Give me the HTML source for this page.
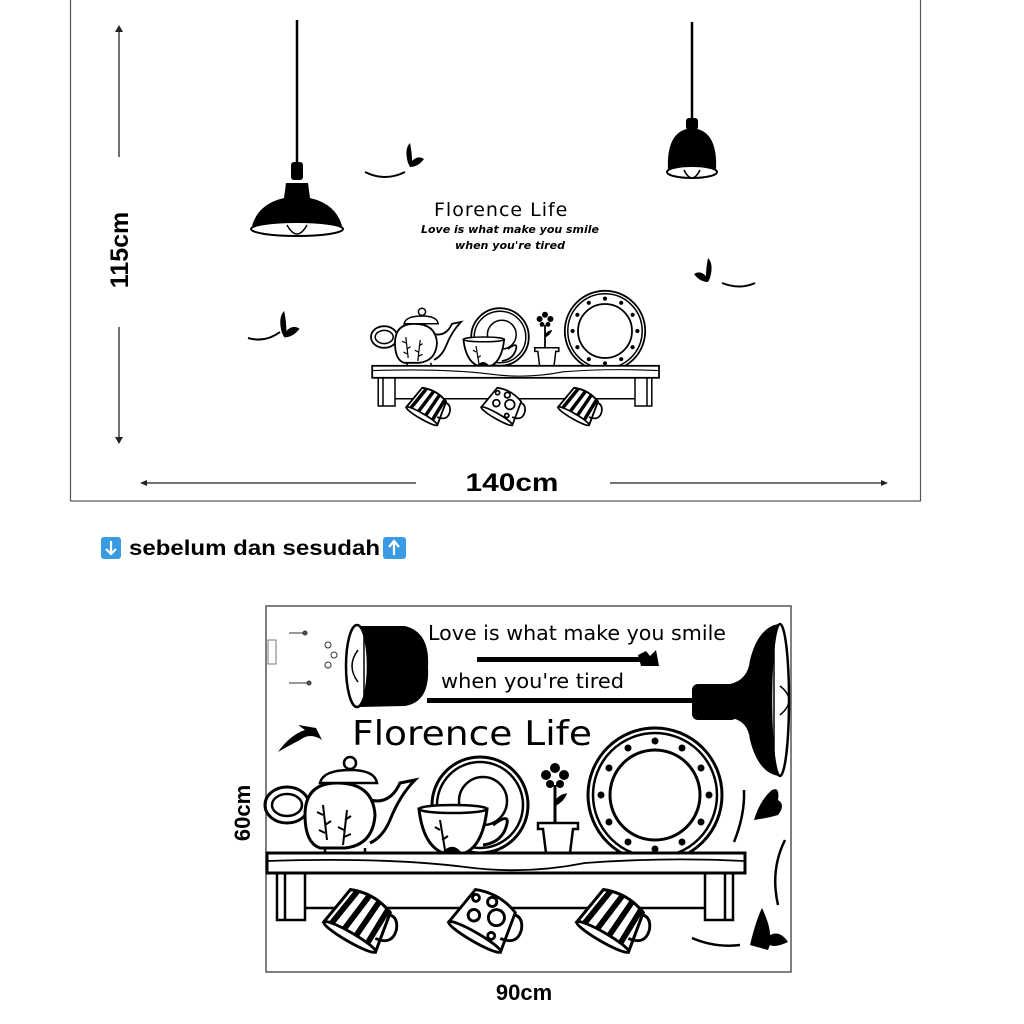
<!DOCTYPE html>
<html><head><meta charset="utf-8"><style>
html,body{margin:0;padding:0;background:#fff;width:1024px;height:1024px;overflow:hidden}
svg{display:block}
.hand{font-family:"Comic Sans MS","DejaVu Sans","Liberation Sans",sans-serif}
.b{font-family:"Liberation Sans",sans-serif;font-weight:bold}
</style></head><body>
<svg width="1024" height="1024" viewBox="0 0 1024 1024" xmlns="http://www.w3.org/2000/svg">
<defs>
<g id="mugS">
  <path d="M-26,-18 L26,-18 L20,18 Q0,26 -20,18 Z" fill="#fff" stroke="#000" stroke-width="2.5"/>
  <path d="M-20,-18 L-14,20 M-8,-18 L-3,22 M4,-18 L7,22 M16,-18 L17,20" stroke="#000" stroke-width="5"/>
  <path d="M-26,-18 L26,-18 L20,18 Q0,26 -20,18 Z" fill="none" stroke="#000" stroke-width="2.5"/>
  <ellipse cx="0" cy="-18" rx="26" ry="4" fill="#fff" stroke="#000" stroke-width="2.5"/>
  <path d="M20,-8 Q36,-6 32,8 Q28,18 20,16" fill="none" stroke="#000" stroke-width="2.5"/>
</g>
<g id="mugD">
  <path d="M-26,-18 L26,-18 L20,18 Q0,26 -20,18 Z" fill="#fff" stroke="#000" stroke-width="2.5"/>
  <circle cx="-10" cy="-2" r="5"/><circle cx="8" cy="6" r="7"/><circle cx="-2" cy="16" r="4"/><circle cx="12" cy="-10" r="3"/><circle cx="-16" cy="12" r="3"/>
  <ellipse cx="0" cy="-18" rx="26" ry="4" fill="#fff" stroke="#000" stroke-width="2.5"/>
  <path d="M20,-8 Q36,-6 32,8 Q28,18 20,16" fill="none" stroke="#000" stroke-width="2.5"/>
</g>
<g id="shelf" fill="none" stroke="#000" stroke-width="2.5">
  <ellipse cx="22" cy="200" rx="22" ry="18" stroke-width="3"/>
  <ellipse cx="22" cy="200" rx="15" ry="11"/>
  <path d="M105,195 Q125,200 135,178 L150,175 Q135,190 125,215 Q118,232 105,238" fill="#fff" stroke-width="3"/>
  <path d="M40,210 Q40,178 72,178 Q108,178 110,210 Q108,240 80,243 L55,243 Q40,238 40,210 Z" fill="#fff" stroke-width="3"/>
  <path d="M55,178 Q58,165 85,165 Q110,165 112,178 Z" fill="#fff"/>
  <circle cx="85" cy="158" r="6" fill="#fff"/>
  <path d="M60,243 L60,250 M100,243 L100,250"/>
  <path d="M58,200 L62,235 M58,210 L52,207 M60,220 L66,216 M60,228 L54,225 M82,205 L78,240 M80,215 L86,211 M79,225 L73,222 M79,232 L86,229" stroke-width="2"/>
  <circle cx="215" cy="200" r="48" stroke-width="3"/>
  <circle cx="215" cy="200" r="43"/>
  <circle cx="218" cy="196" r="24"/>
  <path d="M228,220 Q248,205 240,225 Q234,238 218,240" stroke-width="3"/>
  <path d="M154,204 L222,204 Q218,240 200,248 L178,248 Q158,240 154,204 Z" fill="#fff" stroke-width="3"/>
  <ellipse cx="188" cy="204" rx="34" ry="4" fill="#fff"/>
  <path d="M175,215 L180,245 M175,225 L170,222 M177,235 L183,231" stroke-width="2"/>
  <path d="M178,248 Q188,238 195,248 Z" fill="#000"/>
  <path d="M273,218 L313,218 L313,224 L308,224 L305,248 L281,248 L278,224 L273,224 Z" fill="#fff"/>
  <path d="M290,218 L290,180" stroke-width="3"/>
  <path d="M290,200 Q298,195 300,190 Q292,192 290,200" fill="#000"/>
  <g fill="#000" stroke="none"><circle cx="290" cy="163" r="5"/><circle cx="281" cy="170" r="5"/><circle cx="299" cy="170" r="5"/><circle cx="285" cy="179" r="4"/><circle cx="295" cy="179" r="4"/></g>
  <circle cx="290" cy="172" r="3" fill="#fff" stroke="none"/>
  <path d="M365,250 Q358,232 375,232 M415,250 Q422,232 405,232" stroke-width="3"/>
  <circle cx="390" cy="190" r="67" fill="#fff" stroke-width="3"/>
  <circle cx="390" cy="190" r="62"/>
  <circle cx="390" cy="190" r="45" stroke-width="3"/>
  <g fill="#000" stroke="none">
    <circle cx="390" cy="136" r="3.5"/><circle cx="417" cy="143" r="3.5"/><circle cx="436" cy="163" r="3.5"/><circle cx="444" cy="190" r="3.5"/><circle cx="436" cy="217" r="3.5"/><circle cx="417" cy="237" r="3.5"/><circle cx="390" cy="244" r="3.5"/><circle cx="363" cy="237" r="3.5"/><circle cx="344" cy="217" r="3.5"/><circle cx="336" cy="190" r="3.5"/><circle cx="344" cy="163" r="3.5"/><circle cx="363" cy="143" r="3.5"/>
  </g>
  <rect x="2" y="248" width="478" height="20" fill="#fff" stroke-width="3"/>
  <path d="M2,256 Q120,252 200,262 Q260,270 320,258 Q400,252 480,256" stroke-width="1.8"/>
  <path d="M12,268 L12,315 L40,315 L40,268 M20,268 L20,315 M440,268 L440,315 L468,315 L468,268 M460,268 L460,315 M40,303 L440,303" stroke-width="2.5"/>
  <use href="#mugS" transform="translate(95,314) rotate(30) scale(1.15,-1.15)"/>
  <use href="#mugD" transform="translate(220,314) rotate(30) scale(1.15,-1.15)"/>
  <use href="#mugS" transform="translate(348,314) rotate(30) scale(1.15,-1.15)"/>
</g>
<g id="bfly"><path d="M0,0 Q-4,-14 2,-20 Q4,-10 4,-2 Q10,-8 16,-4 Q10,4 2,4 Z" fill="#000"/></g>
</defs>

<rect x="70.5" y="-2" width="850" height="503" fill="none" stroke="#555" stroke-width="1.2"/>
<line x1="119" y1="30" x2="119" y2="157" stroke="#222" stroke-width="1.3"/>
<path d="M115,32 L119,25 L123,32 Z" fill="#222"/>
<line x1="119" y1="327" x2="119" y2="438" stroke="#222" stroke-width="1.3"/>
<path d="M115,437 L119,444 L123,437 Z" fill="#222"/>
<text class="b" font-size="25" transform="translate(128,250) rotate(-90)" text-anchor="middle">115cm</text>
<line x1="146" y1="483" x2="416" y2="483" stroke="#222" stroke-width="1.3"/>
<path d="M147,480 L140,483 L147,486 Z" fill="#222"/>
<line x1="610" y1="483" x2="882" y2="483" stroke="#222" stroke-width="1.3"/>
<path d="M881,480 L888,483 L881,486 Z" fill="#222"/>
<text class="b" font-size="25" x="512" y="491" text-anchor="middle" textLength="93" lengthAdjust="spacingAndGlyphs">140cm</text>

<line x1="297" y1="20" x2="297" y2="165" stroke="#000" stroke-width="2.5"/>
<rect x="291" y="162" width="12" height="18" rx="3"/>
<path d="M286,183 L308,183 L310,198 Q336,204 342,226 L252,226 Q258,204 284,198 Z"/>
<ellipse cx="297" cy="229" rx="46" ry="7" fill="#fff" stroke="#000" stroke-width="2"/>
<path d="M287,225 Q297,243 307,225" fill="#fff" stroke="#000" stroke-width="1.5"/>
<line x1="692" y1="22" x2="692" y2="125" stroke="#000" stroke-width="2.5"/>
<rect x="686" y="118" width="12" height="12" rx="3"/>
<path d="M668,170 Q666,130 692,128 Q718,130 716,170 Z"/>
<ellipse cx="692" cy="172" rx="25" ry="6" fill="#fff" stroke="#000" stroke-width="2"/>
<path d="M684,170 Q692,186 700,170" fill="#fff" stroke="#000" stroke-width="1.5"/>

<path d="M365,172 Q385,182 405,172" fill="none" stroke="#000" stroke-width="2"/>
<use href="#bfly" transform="translate(408,163)"/>
<path d="M248,338 Q265,343 280,332" fill="none" stroke="#000" stroke-width="2"/>
<use href="#bfly" transform="translate(282,333) scale(1.1)"/>
<path d="M722,283 Q740,290 755,283" fill="none" stroke="#000" stroke-width="2"/>
<use href="#bfly" transform="translate(710,278) scale(-1,1)"/>

<text class="hand" font-size="19" x="434" y="216" letter-spacing="1">Florence Life</text>
<text class="hand" font-size="10.5" font-style="italic" font-weight="bold" x="421" y="233" textLength="178" lengthAdjust="spacingAndGlyphs">Love is what make you smile</text>
<text class="hand" font-size="10.5" font-style="italic" font-weight="bold" x="455" y="249" textLength="110" lengthAdjust="spacingAndGlyphs">when you're tired</text>

<use href="#shelf" transform="translate(371,217) scale(0.6)"/>

<rect x="101" y="537" width="20" height="22" rx="3" fill="#3a9be4"/>
<path d="M111,541 L111,553 M106,549 L111,554 L116,549" stroke="#fff" stroke-width="2.2" fill="none"/>
<text class="b" font-size="21" x="129" y="555" textLength="251" lengthAdjust="spacingAndGlyphs">sebelum dan sesudah</text>
<rect x="383" y="537" width="23" height="22" rx="3" fill="#3a9be4"/>
<path d="M394,555 L394,542 M389,547 L394,541 L399,547" stroke="#fff" stroke-width="2.2" fill="none"/>

<rect x="266" y="606" width="525" height="366" fill="none" stroke="#555" stroke-width="1.5"/>
<text class="b" font-size="22" transform="translate(250,813) rotate(-90)" text-anchor="middle">60cm</text>
<text class="b" font-size="22" x="524" y="1000" text-anchor="middle">90cm</text>

<rect x="268" y="640" width="8" height="24" fill="none" stroke="#777" stroke-width="1"/>
<g stroke="#333" stroke-width="1" fill="#555">
<line x1="289" y1="633" x2="305" y2="633"/><circle cx="305" cy="633" r="2"/>
<line x1="289" y1="683" x2="308" y2="683"/><circle cx="309" cy="683" r="2"/>
<circle cx="328" cy="645" r="3" fill="none"/><circle cx="334" cy="655" r="3" fill="none"/><circle cx="328" cy="665" r="3" fill="none"/>
</g>

<path d="M360,626 L405,626 Q430,632 428,667 Q430,702 405,706 L360,707 Z"/>
<ellipse cx="357" cy="666" rx="11" ry="41" fill="#fff" stroke="#000" stroke-width="2.5"/>
<path d="M364,633 L364,700" stroke="#000" stroke-width="1.5"/>
<path d="M358,650 Q346,666 358,682" fill="none" stroke="#000" stroke-width="1.5"/>

<rect x="477" y="657" width="163" height="5"/>
<path d="M638,655 L646,651 L650,656 L656,650 L659,666 L641,666 Z"/>
<rect x="427" y="698" width="272" height="5"/>

<rect x="692" y="684" width="45" height="36" rx="6"/>
<path d="M730,684 Q748,680 750,660 Q758,628 778,624 L778,776 Q758,772 750,740 Q748,720 730,718 Z"/>
<ellipse cx="780" cy="700" rx="9" ry="76" fill="#fff" stroke="#000" stroke-width="2.5"/>
<path d="M774,638 L774,762" stroke="#000" stroke-width="1.5"/>
<path d="M780,686 Q798,700 780,715" fill="none" stroke="#000" stroke-width="1.5"/>

<path d="M278,752 Q290,735 305,730 L298,725 L316,728 L322,740 Q310,732 300,740 Q290,745 278,752 Z"/>

<path d="M754,820 Q760,800 772,790 Q780,786 778,800 Q786,805 778,815 Q768,818 754,820 Z"/>
<path d="M744,790 Q745,815 734,842" fill="none" stroke="#000" stroke-width="2.5"/>
<path d="M785,840 Q770,870 778,905" fill="none" stroke="#000" stroke-width="2.5"/>
<path d="M750,945 Q756,920 762,908 Q770,925 770,935 Q780,930 788,942 Q775,948 770,945 L768,950 Z"/>
<path d="M692,938 Q715,948 740,945" fill="none" stroke="#000" stroke-width="2.5"/>

<text class="hand" font-size="20" x="428" y="640" textLength="298" lengthAdjust="spacingAndGlyphs">Love is what make you smile</text>
<text class="hand" font-size="20" x="441" y="688" textLength="183" lengthAdjust="spacingAndGlyphs">when you're tired</text>
<text class="hand" font-size="34" x="352" y="745" textLength="240" lengthAdjust="spacingAndGlyphs">Florence Life</text>

<use href="#shelf" transform="translate(265,605)"/>
</svg>
</body></html>
